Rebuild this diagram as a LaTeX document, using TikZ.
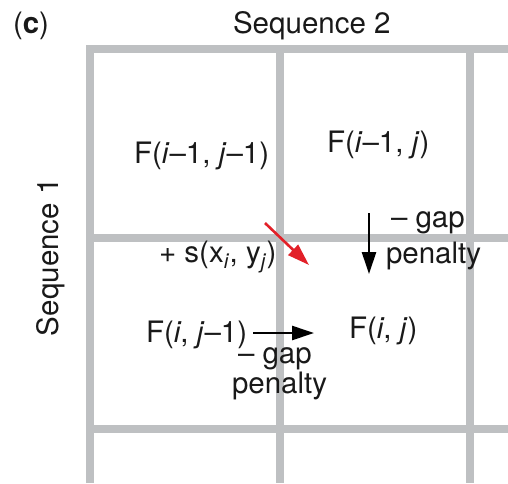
\documentclass[tikz,border=0pt]{standalone}
\usepackage{fontspec}
\setmainfont{TeX Gyre Heros}
\usetikzlibrary{arrows.meta}
\definecolor{gridgray}{RGB}{190,192,194}
\definecolor{arrred}{RGB}{226,32,40}
\tikzset{
  gridline/.style={draw=gridgray, line width=8pt},
  lbl/.style={inner sep=0pt, outer sep=0pt, anchor=base west, font=\fontsize{29.5}{31}\selectfont, text=black!90},
  arr/.style={line width=2.6pt, -{Triangle[length=22pt,width=14pt]}},
}
\begin{document}
\begin{tikzpicture}[x=1pt,y=-1pt]
\useasboundingbox (0,0) rectangle (508,483);
% grid
\draw[gridline, line join=miter] (89.5,483) -- (89.5,49) -- (508,49);
\draw[gridline] (280,49) -- (280,483);
\draw[gridline] (469.5,49) -- (469.5,483);
\draw[gridline] (89.5,238) -- (508,238);
\draw[gridline] (89.5,429) -- (508,429);
% labels
\node[lbl] (panel) at (13,33) {(\textbf{c})};
\node[lbl] (seq2) at (233,33) {Sequence 2};
\node[lbl, rotate=90] (seq1) at (58,336) {Sequence 1};
\node[lbl] (f11) at (134,163) {F(\textit{i}–1, \textit{j}–1)};
\node[lbl] (f10) at (327,152) {F(\textit{i}–1, \textit{j})};
\node[lbl] (f01) at (146,342) {F(\textit{i}, \textit{j}–1)};
\node[lbl] (f00) at (349,338) {F(\textit{i}, \textit{j})};
\node[lbl] (gapA) at (391,227) {– gap};
\node[lbl] (penA) at (386,263) {penalty};
\node[lbl] (sxy) at (159,262) {+ s(x\textsubscript{\textit{i}}, y\textsubscript{\textit{j}})};
\node[lbl] (gapB) at (238,363) {– gap};
\node[lbl] (penB) at (232,393) {penalty};
% arrows
\coordinate (dA) at (369,213);
\coordinate (dB) at (369,274);
\draw[arr] (dA) -- (dB);
\coordinate (rA) at (265,223);
\coordinate (rB) at (309,265);
\draw[arr, draw=arrred, fill=arrred] (rA) -- (rB);
\coordinate (hA) at (253,333);
\coordinate (hB) at (314,333);
\draw[arr] (hA) -- (hB);
\end{tikzpicture}
\end{document}
